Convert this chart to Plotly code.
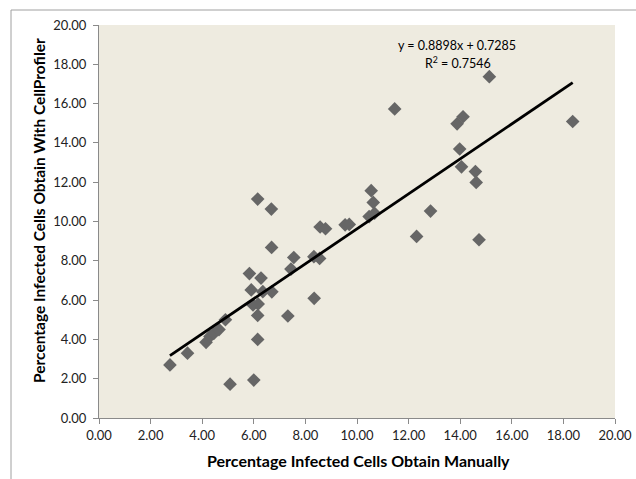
import plotly.graph_objects as go

manual = [2.75, 3.43, 4.15, 4.30, 4.45, 4.65, 4.90, 5.08, 6.00, 6.15, 6.15, 5.83, 5.90, 5.97,
          6.17, 6.28, 6.35, 6.70, 6.69, 6.15, 6.68, 7.32, 7.44, 7.55, 8.34, 8.33, 8.55, 8.57,
          8.78, 9.54, 9.70, 10.47, 10.68, 10.55, 10.63, 11.46, 12.31, 12.85, 13.88, 14.11,
          13.98, 14.05, 14.59, 14.62, 14.73, 15.13, 18.36]
cellprofiler = [2.70, 3.30, 3.85, 4.15, 4.30, 4.50, 5.00, 1.72, 1.93, 4.00, 5.22, 7.35, 6.52, 5.75,
                5.80, 7.12, 6.43, 6.42, 8.68, 11.14, 10.63, 5.19, 7.58, 8.17, 6.09, 8.21, 8.12, 9.72,
                9.63, 9.83, 9.85, 10.25, 10.42, 11.57, 10.97, 15.73, 9.24, 10.53, 14.97, 15.33,
                13.69, 12.78, 12.54, 11.99, 9.07, 17.37, 15.09]
slope = 0.8898
intercept = 0.7285
r_squared = 0.7546
tick_vals = [0, 2, 4, 6, 8, 10, 12, 14, 16, 18, 20]
tick_text = ["%.2f" % v for v in tick_vals]

x_title = "Percentage Infected Cells Obtain Manually"
y_title = "Percentage Infected Cells Obtain With CellProfiler"

fit_x = [min(manual), max(manual)]
fit_y = [slope * v + intercept for v in fit_x]

px_l, px_r, px_t, px_b = 99, 615, 25, 418

def dx(p):
    return (p - px_l) / (px_r - px_l)

def dy(p):
    return (px_b - p) / (px_b - px_t)

fig = go.Figure()
fig.add_trace(go.Scatter(x=manual, y=cellprofiler, mode="markers",
                         marker=dict(symbol="diamond", size=10.5, color="#666666",
                                     line=dict(width=0)),
                         showlegend=False))
fig.add_trace(go.Scatter(x=fit_x, y=fit_y, mode="lines",
                         line=dict(color="black", width=2.8), showlegend=False))

axis_common = dict(range=[0, 20], tickvals=tick_vals, ticktext=tick_text, showgrid=False,
                   zeroline=False, showline=True, linecolor="#8a8a8a", linewidth=1,
                   ticks="outside", ticklen=5, tickcolor="#8a8a8a", automargin=False,
                   tickfont=dict(family="Lato", size=13, color="#222"))

x_title_font = dict(family="Lato", size=16, color="black", weight="bold")
y_title_font = dict(family="Lato", size=15.5, color="black", weight="bold")
note_font = dict(family="Lato", size=12.5, color="black")

fig.update_layout(
    width=636, height=479,
    margin=dict(l=px_l, r=636 - px_r, t=px_t, b=479 - px_b),
    paper_bgcolor="white", plot_bgcolor="#eeebe0",
    xaxis=dict(**axis_common),
    yaxis=dict(**axis_common, ticklabelstandoff=4),
    annotations=[
        dict(x=dx(457), y=dy(46), xref="x domain", yref="y domain", showarrow=False,
             xanchor="center", yanchor="middle",
             text="y = %.4fx + %.4f" % (slope, intercept), font=note_font),
        dict(x=dx(458), y=dy(63), xref="x domain", yref="y domain", showarrow=False,
             xanchor="center", yanchor="middle",
             text="R<sup>2</sup> = %.4f" % r_squared, font=note_font),
        dict(x=dx(358), y=dy(461), xref="x domain", yref="y domain", showarrow=False,
             xanchor="center", yanchor="middle", text=x_title, font=x_title_font),
        dict(x=dx(39), y=dy(211), xref="x domain", yref="y domain", showarrow=False,
             xanchor="center", yanchor="middle", textangle=-90, text=y_title,
             font=y_title_font),
    ],
)

# outer chart frame (left and top edges visible)
fig.add_shape(type="rect", xref="paper", yref="paper",
              x0=dx(11), x1=dx(660), y0=dy(500), y1=dy(10),
              line=dict(color="#a0a0a0", width=1), fillcolor="rgba(0,0,0,0)", layer="below")

fig.write_html("out.html", config={"displayModeBar": False},
               post_script="document.body.style.margin='0';")
